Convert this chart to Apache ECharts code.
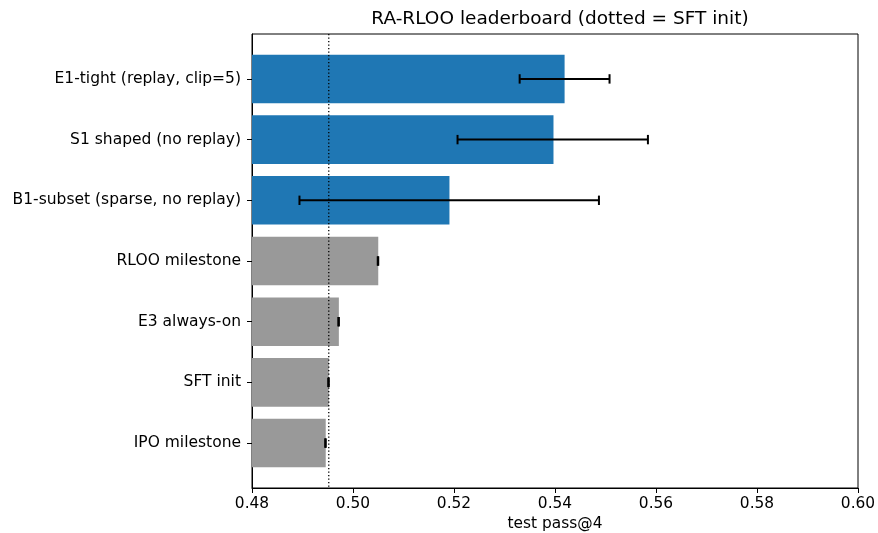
<!DOCTYPE html>
<html>
<head>
<meta charset="utf-8">
<script src="https://cdn.jsdelivr.net/npm/echarts@6/dist/echarts.min.js"></script>
<style>html,body{margin:0;padding:0;background:#fff}#c{width:878px;height:533px}</style>
</head>
<body>
<div id="c"></div>
<script>
// ---- data ----
const categories = ['E1-tight (replay, clip=5)', 'S1 shaped (no replay)', 'B1-subset (sparse, no replay)', 'RLOO milestone', 'E3 always-on', 'SFT init', 'IPO milestone'];
const scores    = [0.5419, 0.5397, 0.5191, 0.5050, 0.4972, 0.4952, 0.4946];
const errLow    = [0.5330, 0.5207, 0.4894, 0.5049, 0.4971, 0.4951, 0.4945];
const errHigh   = [0.5508, 0.5584, 0.5487, 0.5050, 0.4972, 0.4952, 0.4946];
const isCandidate = [true, true, true, false, false, false, false];
const sftInit = 0.4952;
const xTicks = [0.48, 0.50, 0.52, 0.54, 0.56, 0.58, 0.60];

const FONT = 'DejaVu Sans';
const BLUE = '#1f77b4', GRAY = '#999999';
const xMin = xTicks[0], xMax = xTicks[xTicks.length - 1];
const yMin = -0.74, yMax = categories.length - 1 + 0.74;
const idx = categories.map((_, i) => i);

const barData = scores.map((v, i) => [v, i, isCandidate[i] ? 1 : 0]);
const errData = scores.map((v, i) => [errLow[i], errHigh[i], i]);

const chart = echarts.init(document.getElementById('c'), null, {renderer: 'canvas'});
chart.setOption({
  animation: false,
  backgroundColor: '#fff',
  title: {
    text: 'RA-RLOO leaderboard (dotted = SFT init)',
    left: 555, top: 5, textAlign: 'center',
    textStyle: {fontFamily: FONT, fontSize: 18.5, fontWeight: 'normal', color: '#000'}
  },
  grid: {left: 252, right: 20, top: 34, bottom: 45, outerBoundsMode: 'none', containLabel: false,
    show: true, borderColor: '#000', borderWidth: 1, backgroundColor: 'transparent'},
  xAxis: {
    type: 'value', min: xMin, max: xMax, interval: 0.02,
    name: 'test pass@4', nameLocation: 'middle', nameGap: 28,
    nameTextStyle: {fontFamily: FONT, fontSize: 15.4, color: '#000', verticalAlign: 'top'},
    axisLine: {show: true, onZero: false, lineStyle: {color: '#000', width: 1}},
    axisTick: {show: true, length: 5, lineStyle: {color: '#000', width: 1}},
    axisLabel: {fontFamily: FONT, fontSize: 15.4, color: '#000', margin: 8, formatter: v => v.toFixed(2)},
    splitLine: {show: false}
  },
  yAxis: {
    type: 'value', min: yMin, max: yMax, inverse: true,
    axisLine: {show: true, onZero: false, lineStyle: {color: '#000', width: 1}},
    axisTick: {show: true, length: 5, customValues: idx, lineStyle: {color: '#000', width: 1}},
    axisLabel: {fontFamily: FONT, fontSize: 15.5, color: '#000', margin: 11, customValues: idx,
      formatter: v => categories[Math.round(v)] || ''},
    splitLine: {show: false}
  },
  series: [
    {
      type: 'custom', z: 2, clip: true,
      encode: {x: 0, y: 1},
      data: barData,
      renderItem: function (params, api) {
        const v = api.value(0), y = api.value(1);
        const end = api.coord([v, y]);
        const start = api.coord([0, y]);
        const h = api.size([0, 0.8])[1];
        const shape = echarts.graphic.clipRectByRect(
          {x: start[0], y: end[1] - h / 2, width: end[0] - start[0], height: h},
          {x: params.coordSys.x, y: params.coordSys.y, width: params.coordSys.width, height: params.coordSys.height});
        return {type: 'rect', shape: shape, style: {fill: api.value(2) ? BLUE : GRAY}};
      }
    },
    {
      type: 'custom', z: 3,
      encode: {x: 0, y: [1, 2]},
      data: [[sftInit, yMin, yMax]],
      renderItem: function (params, api) {
        const a = api.coord([api.value(0), api.value(1)]);
        const b = api.coord([api.value(0), api.value(2)]);
        return {type: 'line', shape: {x1: a[0], y1: a[1], x2: b[0], y2: b[1]},
          style: {stroke: '#000', lineWidth: 1.3, lineDash: [1.3, 2.2]}};
      }
    },
    {
      type: 'custom', z: 4,
      encode: {x: [0, 1], y: 2},
      data: errData,
      renderItem: function (params, api) {
        const y = api.value(2);
        const a = api.coord([api.value(0), y]);
        const b = api.coord([api.value(1), y]);
        const cap = 4.7;
        const st = {stroke: '#000', lineWidth: 2};
        return {type: 'group', children: [
          {type: 'line', shape: {x1: a[0], y1: a[1], x2: b[0], y2: b[1]}, style: st},
          {type: 'line', shape: {x1: a[0], y1: a[1] - cap, x2: a[0], y2: a[1] + cap}, style: st},
          {type: 'line', shape: {x1: b[0], y1: b[1] - cap, x2: b[0], y2: b[1] + cap}, style: st}
        ]};
      }
    }
  ]
});
</script>
</body>
</html>
